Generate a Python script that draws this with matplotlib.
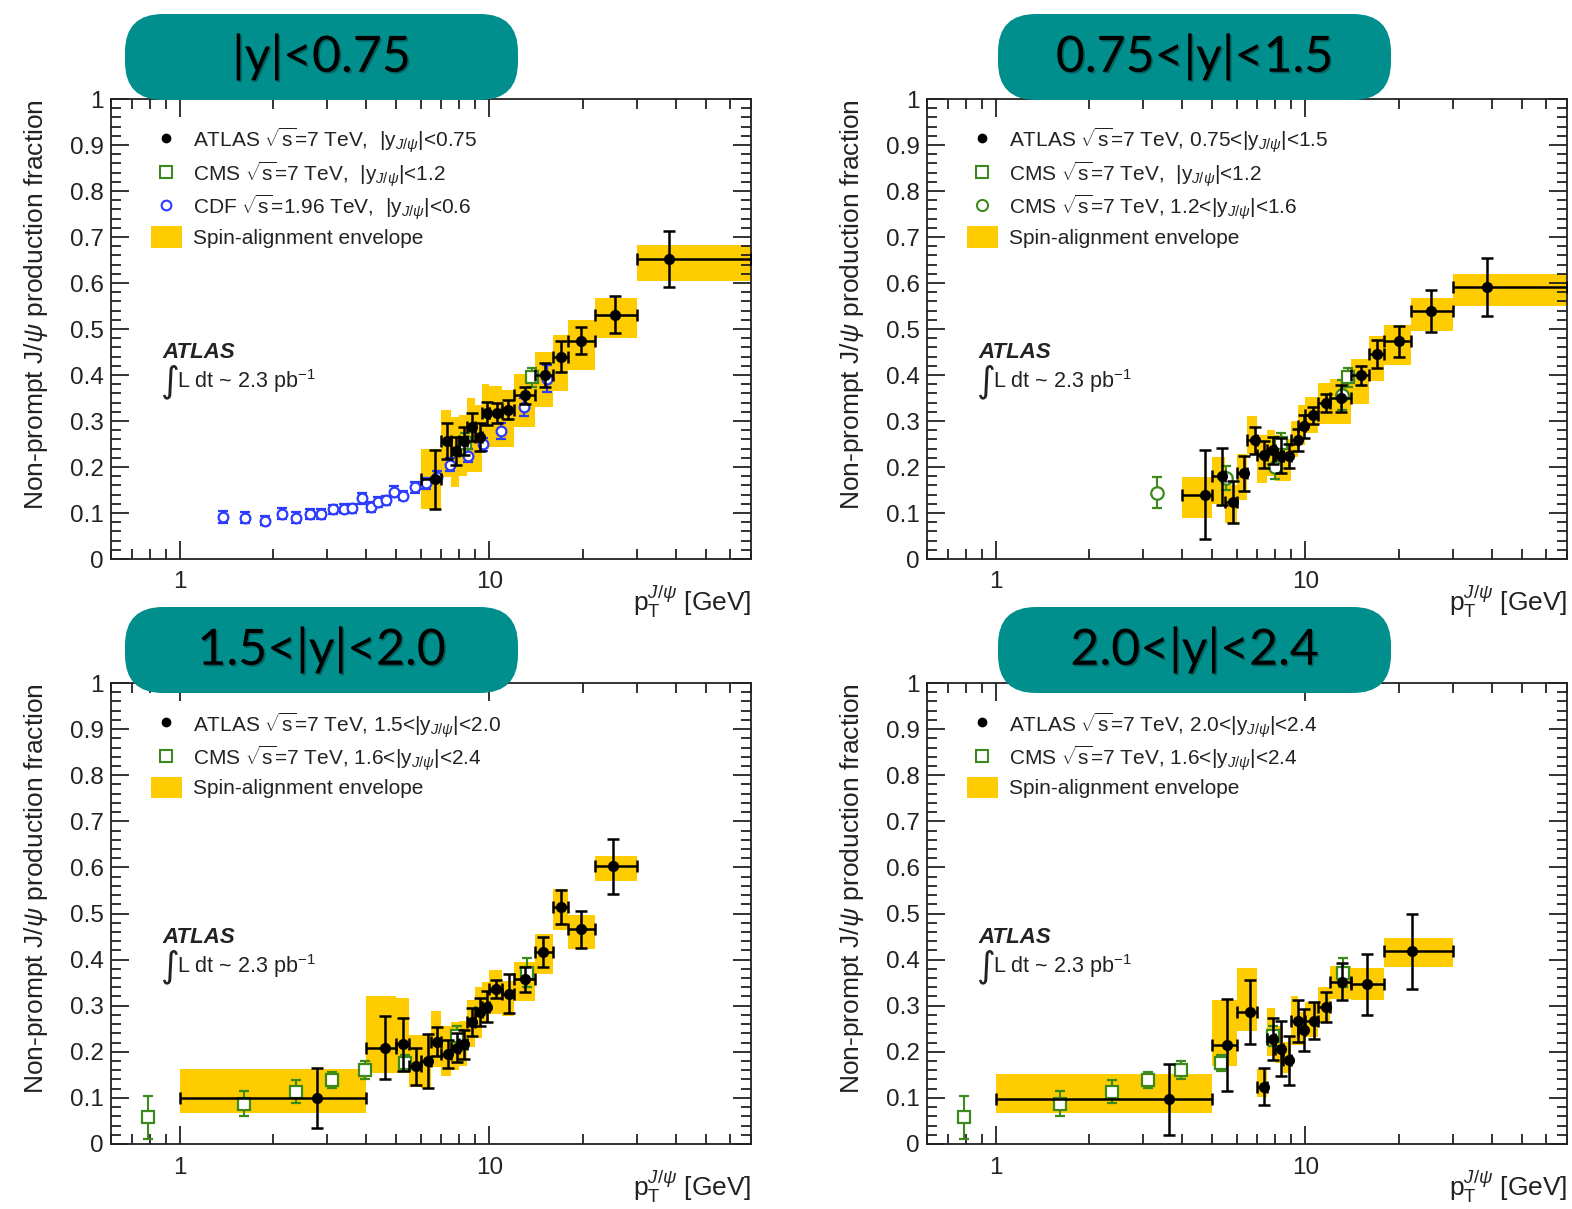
import matplotlib
matplotlib.use('Agg')
import matplotlib.pyplot as plt
import matplotlib.patheffects as pe
from matplotlib.patches import FancyBboxPatch, Patch
from matplotlib.lines import Line2D
from matplotlib.ticker import MultipleLocator, LogLocator, FixedFormatter, FixedLocator, NullFormatter

plt.rcParams['font.family'] = ['Liberation Sans', 'DejaVu Sans']
plt.rcParams['mathtext.fontset'] = 'custom'
plt.rcParams['mathtext.rm'] = 'Liberation Sans'
plt.rcParams['mathtext.it'] = 'Liberation Sans:italic'
plt.rcParams['mathtext.bf'] = 'Liberation Sans:bold'

# ---------------- data ----------------
# |y| < 0.75
tl_lo = [6, 7, 7.5, 8, 8.5, 9, 9.5, 10, 11, 12, 14, 16, 18, 22, 30]
tl_hi = [7, 7.5, 8, 8.5, 9, 9.5, 10, 11, 12, 14, 16, 18, 22, 30, 70]
tl_pt = [6.7, 7.3, 7.8, 8.3, 8.8, 9.3, 9.8, 10.6, 11.5, 13.0, 15.1, 17.1, 19.8, 25.4, 38.0]
tl_f = [0.173, 0.256, 0.235, 0.257, 0.287, 0.265, 0.317, 0.317, 0.325, 0.356, 0.401, 0.440, 0.475, 0.531, 0.652]
tl_err = [0.065, 0.039, 0.031, 0.030, 0.030, 0.031, 0.025, 0.022, 0.021, 0.019, 0.026, 0.033, 0.030, 0.040, 0.060]
tl_env_lo = [0.108, 0.179, 0.157, 0.180, 0.189, 0.189, 0.240, 0.244, 0.244, 0.287, 0.330, 0.365, 0.410, 0.481, 0.605]
tl_env_hi = [0.240, 0.323, 0.309, 0.312, 0.349, 0.335, 0.380, 0.376, 0.367, 0.403, 0.451, 0.488, 0.520, 0.567, 0.683]

# 0.75 < |y| < 1.5
tr_lo = [4, 5, 5.5, 6, 6.5, 7, 7.5, 8, 8.5, 9, 9.5, 10, 11, 12, 14, 16, 18, 22, 30]
tr_hi = [5, 5.5, 6, 6.5, 7, 7.5, 8, 8.5, 9, 9.5, 10, 11, 12, 14, 16, 18, 22, 30, 70]
tr_pt = [4.75, 5.38, 5.86, 6.36, 6.86, 7.33, 7.84, 8.35, 8.88, 9.44, 9.93, 10.6, 11.7, 13.0, 15.1, 17.1, 20.0, 25.5, 38.5]
tr_f = [0.140, 0.180, 0.124, 0.186, 0.258, 0.227, 0.236, 0.224, 0.224, 0.258, 0.289, 0.312, 0.339, 0.349, 0.399, 0.446, 0.473, 0.539, 0.591]
tr_err = [0.096, 0.062, 0.046, 0.038, 0.030, 0.030, 0.030, 0.038, 0.027, 0.024, 0.025, 0.018, 0.020, 0.029, 0.021, 0.031, 0.033, 0.046, 0.063]
tr_env_lo = [0.090, 0.119, 0.079, 0.128, 0.228, 0.166, 0.180, 0.170, 0.170, 0.221, 0.247, 0.274, 0.294, 0.294, 0.338, 0.387, 0.421, 0.495, 0.549]
tr_env_hi = [0.179, 0.221, 0.161, 0.229, 0.311, 0.269, 0.280, 0.270, 0.260, 0.300, 0.334, 0.352, 0.382, 0.392, 0.435, 0.484, 0.508, 0.567, 0.620]

# 1.5 < |y| < 2.0
bl_lo = [1, 4, 5, 5.5, 6, 6.5, 7, 7.5, 8, 8.5, 9, 9.5, 10, 11, 12, 14, 16, 18, 22]
bl_hi = [4, 5, 5.5, 6, 6.5, 7, 7.5, 8, 8.5, 9, 9.5, 10, 11, 12, 14, 16, 18, 22, 30]
bl_pt = [2.78, 4.61, 5.27, 5.79, 6.36, 6.80, 7.33, 7.84, 8.30, 8.79, 9.33, 9.80, 10.5, 11.55, 13.0, 14.9, 17.06, 19.8, 25.1]
bl_f = [0.099, 0.209, 0.216, 0.169, 0.180, 0.222, 0.195, 0.209, 0.216, 0.265, 0.287, 0.298, 0.336, 0.326, 0.357, 0.417, 0.515, 0.466, 0.602]
bl_err = [0.065, 0.068, 0.057, 0.040, 0.059, 0.031, 0.030, 0.031, 0.032, 0.030, 0.030, 0.033, 0.020, 0.042, 0.028, 0.032, 0.037, 0.040, 0.059]
bl_env_lo = [0.068, 0.155, 0.155, 0.124, 0.121, 0.168, 0.147, 0.160, 0.169, 0.211, 0.231, 0.264, 0.282, 0.277, 0.311, 0.369, 0.464, 0.423, 0.570]
bl_env_hi = [0.162, 0.320, 0.316, 0.237, 0.237, 0.289, 0.255, 0.264, 0.266, 0.312, 0.340, 0.352, 0.378, 0.353, 0.394, 0.456, 0.553, 0.497, 0.625]

# 2.0 < |y| < 2.4
br_lo = [1, 5, 6, 7, 7.5, 8, 8.5, 9, 9.5, 10, 11, 12, 14, 18]
br_hi = [5, 6, 7, 7.5, 8, 8.5, 9, 9.5, 10, 11, 12, 14, 18, 30]
br_pt = [3.63, 5.6, 6.64, 7.37, 7.84, 8.34, 8.88, 9.44, 9.93, 10.7, 11.7, 13.1, 15.8, 22.1]
br_f = [0.097, 0.214, 0.286, 0.124, 0.228, 0.207, 0.182, 0.267, 0.247, 0.267, 0.297, 0.352, 0.346, 0.418]
br_err = [0.077, 0.100, 0.069, 0.040, 0.045, 0.060, 0.053, 0.046, 0.046, 0.040, 0.033, 0.040, 0.067, 0.081]
br_env_lo = [0.068, 0.170, 0.245, 0.102, 0.190, 0.175, 0.155, 0.214, 0.214, 0.233, 0.262, 0.314, 0.313, 0.383]
br_env_hi = [0.152, 0.312, 0.382, 0.162, 0.295, 0.257, 0.221, 0.322, 0.287, 0.309, 0.341, 0.386, 0.382, 0.446]

# CDF sqrt(s)=1.96 TeV, |y|<0.6
cdf_pt = [1.38, 1.63, 1.88, 2.14, 2.38, 2.63, 2.87, 3.13, 3.39, 3.61, 3.87, 4.14, 4.38, 4.65, 4.91,
          5.27, 5.75, 6.24, 6.78, 7.47, 8.51, 9.51, 10.9, 12.9, 15.3]
cdf_f = [0.092, 0.090, 0.083, 0.098, 0.090, 0.098, 0.098, 0.108, 0.109, 0.110, 0.132, 0.113, 0.124, 0.128, 0.146,
         0.138, 0.156, 0.165, 0.179, 0.205, 0.225, 0.249, 0.278, 0.330, 0.392]
cdf_err = [0.013, 0.012, 0.010, 0.012, 0.012, 0.010, 0.010, 0.010, 0.010, 0.010, 0.012, 0.010, 0.010, 0.010, 0.012,
           0.010, 0.012, 0.012, 0.012, 0.014, 0.015, 0.015, 0.017, 0.020, 0.030]

# CMS |y|<1.2
cms_c_pt = [8.35, 13.7]
cms_c_f = [0.252, 0.395]
cms_c_err = [0.023, 0.020]

# CMS 1.2<|y|<1.6
cms_m_pt = [3.33, 5.56, 8.0, 13.1]
cms_m_f = [0.144, 0.176, 0.200, 0.356]
cms_m_err = [0.034, 0.027, 0.027, 0.033]

# CMS 1.6<|y|<2.4
cms_f_pt = [0.79, 1.61, 2.37, 3.11, 3.97, 5.35, 7.89, 13.2]
cms_f_f = [0.058, 0.087, 0.113, 0.139, 0.160, 0.176, 0.234, 0.372]
cms_f_err = [0.047, 0.027, 0.025, 0.017, 0.019, 0.018, 0.022, 0.032]

titles = ['|y|<0.75', '0.75<|y|<1.5', '1.5<|y|<2.0', '2.0<|y|<2.4']

# ---------------- styles ----------------
YELLOW = '#ffcc00'
GREEN = '#3d8a1c'
BLUE = '#2b3bff'
TEAL = '#008f8c'
INK = '#222222'
W, H = 1572, 1209

fig = plt.figure(figsize=(W / 100, H / 100), dpi=100)


def px_axes(left, right, top, bottom):
    return fig.add_axes([left / W, 1 - bottom / H, (right - left) / W, (bottom - top) / H])


def draw_panel(ax, lo, hi, pt, f, err, elo, ehi):
    widths = [h - l for l, h in zip(lo, hi)]
    heights = [h - l for l, h in zip(elo, ehi)]
    ax.bar(lo, heights, width=widths, bottom=elo, align='edge', color=YELLOW,
           edgecolor='none', zorder=1)
    xerr = [[p - l for p, l in zip(pt, lo)], [h - p for p, h in zip(pt, hi)]]
    ax.errorbar(pt, f, yerr=err, xerr=xerr, fmt='o', color='black', ms=7,
                elinewidth=1.8, capsize=4, capthick=1.8, zorder=4)


def other(ax, x, y, e, marker, color, ms):
    ax.errorbar(x, y, yerr=e, fmt=marker, mfc='white', mec=color, mew=1.6, ms=ms,
                ecolor=color, elinewidth=1.5, capsize=3.5, capthick=1.5, zorder=3)


def style_axes(ax):
    ax.set_xscale('log')
    ax.set_xlim(0.6, 70)
    ax.set_ylim(0, 1)
    ax.xaxis.set_major_locator(FixedLocator([1, 10]))
    ax.xaxis.set_major_formatter(FixedFormatter(['1', '10']))
    ax.xaxis.set_minor_locator(LogLocator(base=10, subs=range(2, 10)))
    ax.xaxis.set_minor_formatter(NullFormatter())
    ax.yaxis.set_major_locator(MultipleLocator(0.1))
    ax.yaxis.set_minor_locator(MultipleLocator(0.02))
    ax.yaxis.set_major_formatter(lambda v, p: '%g' % round(v, 2))
    ax.tick_params(which='both', direction='in', top=True, right=True, width=1.3,
                   labelsize=17.5, colors=INK)
    ax.tick_params(which='major', length=13)
    ax.tick_params(which='minor', length=7)
    ax.tick_params(axis='x', pad=9)
    ax.tick_params(axis='y', pad=5)
    for s in ax.spines.values():
        s.set_linewidth(1.3)
        s.set_color(INK)
    ax.set_ylabel(r'Non-prompt J/$\psi$ production fraction', fontsize=19, color=INK, loc='top')
    ax.yaxis.set_label_coords(-0.095, 1.0)
    ax.set_xlabel(r'p$_\mathrm{T}^{J/\psi}$ [GeV]', fontsize=19, color=INK, loc='right')
    ax.xaxis.set_label_coords(1.0, -0.052)
    ax.text(0.08, 0.448, 'ATLAS', transform=ax.transAxes, fontsize=16, fontweight='bold',
            fontstyle='italic', color=INK, va='center')
    ax.text(0.078, 0.385, '\u222b', transform=ax.transAxes, fontsize=26, family='DejaVu Sans',
            color=INK, va='center')
    ax.text(0.103, 0.386, r'L dt ~ 2.3 pb$^{\mathregular{-1}}$', transform=ax.transAxes,
            fontsize=15.5, color=INK, va='center')


def legend(ax, entries):
    handles = []
    labels = []
    for kind, lab in entries:
        if kind == 'atlas':
            handles.append(Line2D([], [], ls='none', marker='o', color='black', ms=6))
        elif kind == 'sq':
            handles.append(Line2D([], [], ls='none', marker='s', mfc='white', mec=GREEN, mew=1.5, ms=8))
        elif kind == 'cms_c':
            handles.append(Line2D([], [], ls='none', marker='o', mfc='white', mec=GREEN, mew=1.5, ms=8))
        elif kind == 'cdf':
            handles.append(Line2D([], [], ls='none', marker='o', mfc='white', mec=BLUE, mew=1.5, ms=7))
        else:
            handles.append(Patch(facecolor=YELLOW, edgecolor='none'))
        labels.append(lab)
    ax.legend(handles, labels, loc='upper left', bbox_to_anchor=(0.05, 0.96), frameon=False,
              fontsize=15, handlelength=1.45, handleheight=1.2, handletextpad=0.55,
              labelspacing=0.18, borderaxespad=0, labelcolor=INK)


sq = r'$\sqrt{\mathrm{s}}$'
yj = r'y$_{J/\psi}$'

ax1 = px_axes(111, 751, 99, 559)
style_axes(ax1)
draw_panel(ax1, tl_lo, tl_hi, tl_pt, tl_f, tl_err, tl_env_lo, tl_env_hi)
other(ax1, cdf_pt, cdf_f, cdf_err, 'o', BLUE, 7)
other(ax1, cms_c_pt, cms_c_f, cms_c_err, 's', GREEN, 9)
legend(ax1, [('atlas', 'ATLAS ' + sq + '=7 TeV,  |' + yj + '|<0.75'),
             ('sq', 'CMS ' + sq + '=7 TeV,  |' + yj + '|<1.2'),
             ('cdf', 'CDF ' + sq + '=1.96 TeV,  |' + yj + '|<0.6'),
             ('env', 'Spin-alignment envelope')])

ax2 = px_axes(927, 1567, 99, 559)
style_axes(ax2)
draw_panel(ax2, tr_lo, tr_hi, tr_pt, tr_f, tr_err, tr_env_lo, tr_env_hi)
other(ax2, cms_c_pt, cms_c_f, cms_c_err, 's', GREEN, 9)
other(ax2, cms_m_pt, cms_m_f, cms_m_err, 'o', GREEN, 9)
legend(ax2, [('atlas', 'ATLAS ' + sq + '=7 TeV, 0.75<|' + yj + '|<1.5'),
             ('sq', 'CMS ' + sq + '=7 TeV,  |' + yj + '|<1.2'),
             ('cms_c', 'CMS ' + sq + '=7 TeV, 1.2<|' + yj + '|<1.6'),
             ('env', 'Spin-alignment envelope')])

ax3 = px_axes(111, 751, 683, 1144)
style_axes(ax3)
draw_panel(ax3, bl_lo, bl_hi, bl_pt, bl_f, bl_err, bl_env_lo, bl_env_hi)
other(ax3, cms_f_pt, cms_f_f, cms_f_err, 's', GREEN, 9)
legend(ax3, [('atlas', 'ATLAS ' + sq + '=7 TeV, 1.5<|' + yj + '|<2.0'),
             ('sq', 'CMS ' + sq + '=7 TeV, 1.6<|' + yj + '|<2.4'),
             ('env', 'Spin-alignment envelope')])

ax4 = px_axes(927, 1567, 683, 1144)
style_axes(ax4)
draw_panel(ax4, br_lo, br_hi, br_pt, br_f, br_err, br_env_lo, br_env_hi)
other(ax4, cms_f_pt, cms_f_f, cms_f_err, 's', GREEN, 9)
legend(ax4, [('atlas', 'ATLAS ' + sq + '=7 TeV, 2.0<|' + yj + '|<2.4'),
             ('sq', 'CMS ' + sq + '=7 TeV, 1.6<|' + yj + '|<2.4'),
             ('env', 'Spin-alignment envelope')])

# teal title boxes (pixel positions converted to inches)
box_pos = [(125, 14), (998, 14), (125, 607), (998, 607)]
for (bx, by), t in zip(box_pos, titles):
    x0 = bx / 100
    y0 = (H - by - 86) / 100
    box = FancyBboxPatch((x0, y0), 3.93, 0.86, boxstyle='round,pad=0,rounding_size=0.38',
                         transform=fig.dpi_scale_trans, facecolor=TEAL, edgecolor='none', zorder=10)
    fig.patches.append(box)
    fig.text(x0 + 3.93 / 2, y0 + 0.43, t, transform=fig.dpi_scale_trans, ha='center', va='center',
             fontsize=36, family='Lato', color='black', zorder=11,
             path_effects=[pe.withSimplePatchShadow(offset=(1.2, -1.2), shadow_rgbFace='black', alpha=0.3)])

fig.savefig('out.png', dpi=100)
